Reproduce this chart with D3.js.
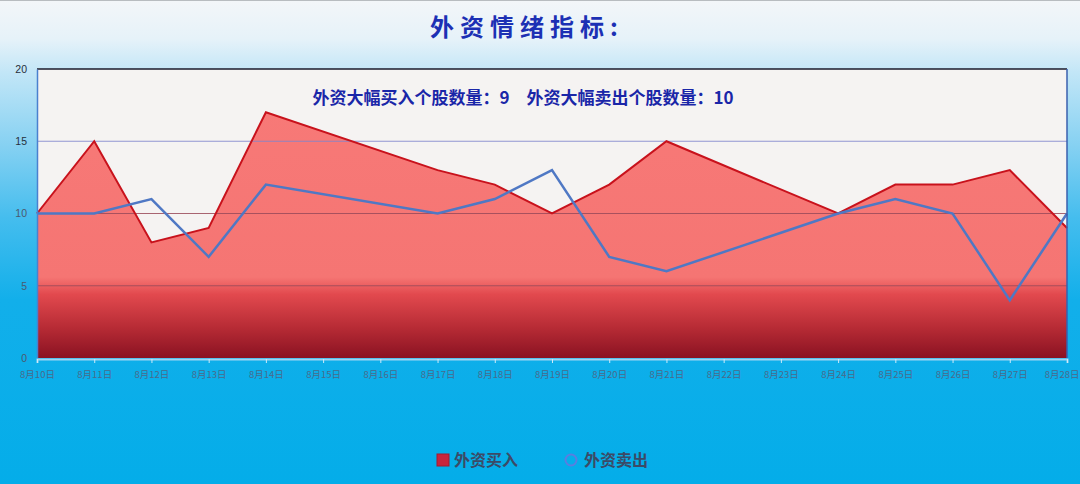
<!DOCTYPE html>
<html><head><meta charset="utf-8">
<script src="https://cdn.jsdelivr.net/npm/d3@7"></script>
<style>html,body{margin:0;padding:0;overflow:hidden;}svg{display:block;}</style>
</head><body>
<script>
const dates = ["8月10日","8月11日","8月12日","8月13日","8月14日","8月15日","8月16日","8月17日","8月18日","8月19日","8月20日","8月21日","8月22日","8月23日","8月24日","8月25日","8月26日","8月27日","8月28日"];
// null = no trading day (weekend), line connects across
const buyValues  = [10,15,8,9,17,null,null,13,12,10,12,15,null,null,10,12,12,13,9];
const sellValues = [10,10,11,7,12,null,null,10,11,13,7,6,null,null,10,11,10,4,10];
const yTicks = [0,5,10,15,20];
const seriesNames = ["外资买入","外资卖出"];
const titleText = "外资情绪指标:";
const subText = "外资大幅买入个股数量：9　外资大幅卖出个股数量：10";

const W=1080,H=484;
const svg=d3.select("body").append("svg").attr("width",W).attr("height",H);
const defs=svg.append("defs");
const bg=defs.append("linearGradient").attr("id","bg").attr("x1",0).attr("y1",0).attr("x2",0).attr("y2",1);
[[0,"#f3f6f9"],[0.08,"#e6f2f9"],[0.15,"#c2e6f7"],[0.3,"#86d1f2"],[0.45,"#45bdee"],[0.62,"#12afea"],[1,"#04ade9"]].forEach(s=>bg.append("stop").attr("offset",s[0]).attr("stop-color",s[1]));
svg.append("rect").attr("width",W).attr("height",H).attr("fill","url(#bg)");
svg.append("line").attr("x1",0).attr("x2",W).attr("y1",0.5).attr("y2",0.5).attr("stroke","#b8bcc0");

const x=d3.scalePoint().domain(dates).range([37,1067]);
const y=d3.scaleLinear().domain([0,20]).range([358,69]);

// plot background
svg.append("rect").attr("x",37).attr("y",69).attr("width",1030).attr("height",289).attr("fill","#f5f3f2");

const buyPts=dates.map((d,i)=>({d,v:buyValues[i]})).filter(p=>p.v!==null);
const sellPts=dates.map((d,i)=>({d,v:sellValues[i]})).filter(p=>p.v!==null);

const ag=defs.append("linearGradient").attr("id","area").attr("gradientUnits","userSpaceOnUse").attr("x1",0).attr("y1",y(20)).attr("x2",0).attr("y2",y(0));
[[0,"#f87a78"],[0.72,"#f57573"],[0.78,"#e2494e"],[0.9,"#b52a34"],[1,"#8a1222"]].forEach(s=>ag.append("stop").attr("offset",s[0]).attr("stop-color",s[1]));

const area=d3.area().x(p=>x(p.d)).y0(y(0)).y1(p=>y(p.v));
svg.append("path").datum(buyPts).attr("d",area).attr("fill","url(#area)");

// gridlines
svg.append("g").selectAll("line").data(yTicks.filter(t=>t>0&&t<20)).join("line")
  .attr("x1",37).attr("x2",1067).attr("y1",d=>y(d)).attr("y2",d=>y(d))
  .attr("stroke",d=>d===15?"#7f86cc":"#9a4a5a").attr("stroke-opacity",0.85).attr("stroke-width",1);

const line=d3.line().x(p=>x(p.d)).y(p=>y(p.v));
svg.append("path").datum(buyPts).attr("d",line).attr("fill","none").attr("stroke","#c8121c").attr("stroke-width",2).attr("stroke-linejoin","miter");
svg.append("path").datum(sellPts).attr("d",line).attr("fill","none").attr("stroke","#4f78c4").attr("stroke-width",2.5);

// plot border
svg.append("line").attr("x1",37).attr("x2",1067).attr("y1",69).attr("y2",69).attr("stroke","#1b1b2b").attr("stroke-width",1.5);
svg.append("line").attr("x1",1067).attr("x2",1067).attr("y1",69).attr("y2",358).attr("stroke","#3a5fae").attr("stroke-width",1.5);

// axes
const ya=svg.append("g").attr("transform","translate(37,0)").call(d3.axisLeft(y).tickValues(yTicks).tickSize(0).tickPadding(10));
ya.select(".domain").attr("stroke","#4a80cf").attr("stroke-width",1.5);
ya.selectAll("text").attr("font-family","Liberation Sans, Arial, sans-serif").attr("font-size",10.5).attr("fill",d=>d>=15?"#26303c":"#4a5a70");

const xa=svg.append("g").attr("transform","translate(0,359)").call(d3.axisBottom(x).tickSize(4).tickPadding(8));
xa.select(".domain").attr("stroke","#9fd4f2").attr("stroke-width",2);
xa.selectAll(".tick line").attr("stroke","#cfeaf8");
xa.selectAll("text").attr("font-family","Noto Sans CJK SC, sans-serif").attr("font-size",9.5).attr("fill","#4a6a8c");
// keep last label inside the picture
xa.selectAll(".tick text").filter((d,i,n)=>i===n.length-1).attr("text-anchor","end").attr("dx",12);

// title
svg.append("text").attr("x",527).attr("y",36).attr("text-anchor","middle")
  .attr("font-family","Noto Sans CJK SC, sans-serif").attr("font-weight","bold").attr("font-size",24)
  .attr("letter-spacing",6).attr("fill","#1c30b4").text(titleText);
svg.append("text").attr("x",523).attr("y",104).attr("text-anchor","middle")
  .attr("font-family","Noto Sans CJK SC, sans-serif").attr("font-weight","bold").attr("font-size",17)
  .attr("fill","#1a26a8").text(subText);

// legend
const lg=svg.append("g");
lg.append("rect").attr("x",437).attr("y",454).attr("width",12).attr("height",12).attr("fill","#c8243c").attr("stroke","#a31a30");
lg.append("text").attr("x",454).attr("y",466).attr("font-family","Noto Sans CJK SC, sans-serif").attr("font-weight","bold").attr("font-size",16).attr("fill","#3c4a66").text(seriesNames[0]);
lg.append("circle").attr("cx",571).attr("cy",460).attr("r",5.5).attr("fill","none").attr("stroke","#5a7ee0").attr("stroke-width",2);
lg.append("text").attr("x",584).attr("y",466).attr("font-family","Noto Sans CJK SC, sans-serif").attr("font-weight","bold").attr("font-size",16).attr("fill","#3c4a66").text(seriesNames[1]);
</script>
</body></html>
